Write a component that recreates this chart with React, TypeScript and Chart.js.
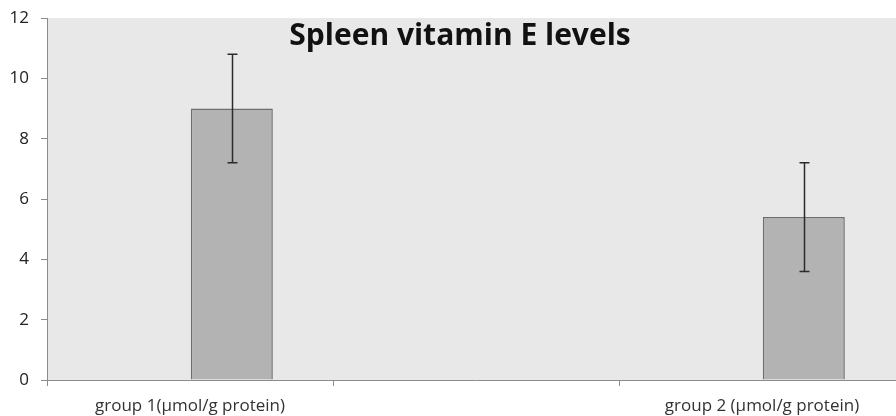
import React, { useEffect, useRef } from "react";
import { Chart, registerables } from "chart.js";

Chart.register(...registerables);

const categories = ["group 1(μmol/g protein)", "", "group 2 (μmol/g protein)"];
const placeholderValues: (number | null)[] = [null, null, null];
const vitaminEValues: (number | null)[] = [9, null, 5.4];
const vitaminEErrors: (number | null)[] = [1.8, null, 1.8];
const yTicks = [0, 2, 4, 6, 8, 10, 12];
const titleText = "Spleen vitamin E levels";

const FONT = "'Open Sans', 'Liberation Sans', sans-serif";

const bgPlugin = {
  id: "plotBg",
  beforeDraw(chart: any) {
    const { ctx, chartArea } = chart;
    ctx.save();
    ctx.fillStyle = "#e8e8e8";
    ctx.fillRect(chartArea.left, chartArea.top, chartArea.right - chartArea.left, chartArea.bottom - chartArea.top);
    ctx.restore();
  },
};

const errorBarPlugin = {
  id: "errorBars",
  afterDatasetsDraw(chart: any) {
    const { ctx } = chart;
    const meta = chart.getDatasetMeta(1);
    const yScale = chart.scales.y;
    ctx.save();
    ctx.strokeStyle = "#2b2b2b";
    ctx.lineWidth = 1.5;
    meta.data.forEach((bar: any, i: number) => {
      const v = vitaminEValues[i];
      const e = vitaminEErrors[i];
      if (v == null || e == null) return;
      const x = Math.round(bar.x) + 0.5;
      const yTop = yScale.getPixelForValue(v + e);
      const yBot = yScale.getPixelForValue(v - e);
      ctx.beginPath();
      ctx.moveTo(x, yTop);
      ctx.lineTo(x, yBot);
      ctx.moveTo(x - 5, yTop);
      ctx.lineTo(x + 5, yTop);
      ctx.moveTo(x - 5, yBot);
      ctx.lineTo(x + 5, yBot);
      ctx.stroke();
    });
    ctx.restore();
  },
};

const titlePlugin = {
  id: "overlayTitle",
  afterDraw(chart: any) {
    const { ctx } = chart;
    ctx.save();
    ctx.font = `bold 30px ${FONT}`;
    ctx.fillStyle = "#111";
    ctx.textAlign = "center";
    ctx.textBaseline = "alphabetic";
    ctx.fillText(titleText, 460, 45);
    ctx.restore();
  },
};

export default function App() {
  const ref = useRef<HTMLCanvasElement>(null);
  useEffect(() => {
    if (!ref.current) return;
    const chart = new Chart(ref.current, {
      type: "bar",
      data: {
        labels: categories,
        datasets: [
          { data: placeholderValues, backgroundColor: "transparent" },
          {
            data: vitaminEValues,
            backgroundColor: "#b3b3b3",
            borderColor: "#6e6e6e",
            borderWidth: 1.5,
            categoryPercentage: 0.585,
            barPercentage: 0.98,
          },
        ],
      },
      options: {
        responsive: false,
        animation: false,
        devicePixelRatio: 1,
        layout: { padding: { top: 18, right: 0, left: 0, bottom: 0 } },
        datasets: { bar: { categoryPercentage: 0.585, barPercentage: 0.98 } },
        plugins: { legend: { display: false }, tooltip: { enabled: false }, title: { display: false } },
        scales: {
          x: {
            offset: true,
            grid: { display: true, drawOnChartArea: false, offset: true, color: "#8c8c8c", tickLength: 6 },
            border: { color: "#8c8c8c", width: 1 },
            ticks: { color: "#333", font: { family: FONT, size: 17 }, maxRotation: 0, autoSkip: false, padding: 10 },
            afterFit(scale: any) {
              scale.height = 36;
              scale.paddingLeft = 0;
              scale.paddingRight = 0;
            },
          },
          y: {
            min: 0,
            max: 12,
            afterBuildTicks(scale: any) { scale.ticks = yTicks.map((v) => ({ value: v })); },
            grid: { display: true, drawOnChartArea: false, color: "#8c8c8c", tickLength: 6 },
            border: { color: "#8c8c8c", width: 1 },
            ticks: { color: "#222", font: { family: FONT, size: 17 }, padding: 12 },
            afterFit(scale: any) {
              scale.width = 47;
              scale.paddingTop = 0;
              scale.paddingBottom = 0;
            },
          },
        },
      },
      plugins: [bgPlugin, errorBarPlugin, titlePlugin],
    });
    return () => chart.destroy();
  }, []);
  return (
    <div style={{ position: "fixed", left: 0, top: 0, width: 896, height: 416, overflow: "hidden", background: "#fff" }}>
      <canvas ref={ref} width={905} height={416} style={{ display: "block" }} />
    </div>
  );
}
